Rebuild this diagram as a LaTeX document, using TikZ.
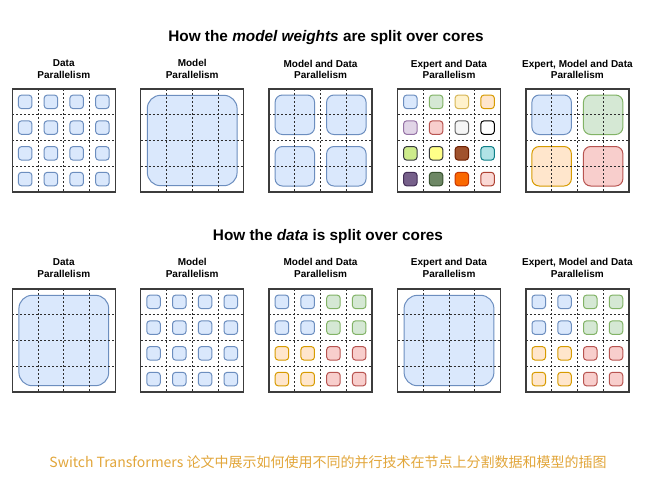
\documentclass[tikz,border=0pt]{standalone}
\usepackage{fontspec}
\setmainfont{Liberation Sans}
\newfontfamily\cjk{Noto Sans CJK SC}

\definecolor{fblue}{HTML}{DAE8FC}   \definecolor{sblue}{HTML}{6C8EBF}
\definecolor{fgreen}{HTML}{D5E8D4}  \definecolor{sgreen}{HTML}{82B366}
\definecolor{fyellow}{HTML}{FFF2CC} \definecolor{syellow}{HTML}{D6B656}
\definecolor{forange}{HTML}{FFE6CC} \definecolor{sorange}{HTML}{D79B00}
\definecolor{fpurple}{HTML}{E1D5E7} \definecolor{spurple}{HTML}{9673A6}
\definecolor{fred}{HTML}{F8CECC}    \definecolor{sred}{HTML}{B85450}
\definecolor{fgray}{HTML}{F5F5F5}   \definecolor{sgray}{HTML}{666666}
\definecolor{flime}{HTML}{CDEB8B}   \definecolor{slime}{HTML}{36393D}
\definecolor{flemon}{HTML}{FFFF88}
\definecolor{fbrown}{HTML}{A0522D}  \definecolor{sbrown}{HTML}{6D1F00}
\definecolor{fcyan}{HTML}{B0E3E6}   \definecolor{scyan}{HTML}{0E8088}
\definecolor{fviolet}{HTML}{76608A} \definecolor{sviolet}{HTML}{432D57}
\definecolor{folive}{HTML}{6D8764}  \definecolor{solive}{HTML}{3A5431}
\definecolor{fflame}{HTML}{FA6800}  \definecolor{sflame}{HTML}{C73500}
\definecolor{fpink}{HTML}{FAD9D5}   \definecolor{spink}{HTML}{AE4132}
\definecolor{capgold}{RGB}{226,166,58}

\tikzset{
  mblue/.style={fill=fblue,draw=sblue},
  mgreen/.style={fill=fgreen,draw=sgreen},
  myellow/.style={fill=fyellow,draw=syellow},
  morange/.style={fill=forange,draw=sorange},
  mpurple/.style={fill=fpurple,draw=spurple},
  mred/.style={fill=fred,draw=sred},
  mgray/.style={fill=fgray,draw=sgray},
  mwhite/.style={fill=white,draw=black},
  mlime/.style={fill=flime,draw=slime},
  mlemon/.style={fill=flemon,draw=slime},
  mbrown/.style={fill=fbrown,draw=sbrown},
  mcyan/.style={fill=fcyan,draw=scyan},
  mviolet/.style={fill=fviolet,draw=sviolet},
  molive/.style={fill=folive,draw=solive},
  mflame/.style={fill=fflame,draw=sflame},
  mpink/.style={fill=fpink,draw=spink},
  core/.style={rounded corners=2.3pt,line width=0.75pt},
  half/.style={rounded corners=5.5pt,line width=0.75pt},
  whole/.style={rounded corners=10pt,line width=0.75pt},
  cut/.style={draw={rgb,255:red,45;green,45;blue,45},line width=0.55pt,dash pattern=on 1.5pt off 1.5pt},
  panel/.style={draw={rgb,255:red,60;green,60;blue,60},line width=1pt},
  head/.style={font=\bfseries\fontsize{11.5}{14}\selectfont,inner sep=0pt},
  sub/.style={font=\bfseries\fontsize{7.5}{8.7}\selectfont,align=center,inner sep=0pt}
}

\begin{document}
\begin{tikzpicture}[x=0.75pt,y=0.75pt,yscale=-1]
\useasboundingbox (0,0) rectangle (646,483);
\fill[white] (0,0) rectangle (646,483);

% Titles
\node[head] (hw) at (326,37.5) {How the \textit{model weights} are split over cores};
\node[head] (hd) at (328,236.5) {How the \textit{data} is split over cores};

% Panel titles (weights)
\node[sub] (wdp) at (63.8,69) {Data\\Parallelism};
\node[sub] (wmp) at (192.2,69) {Model\\Parallelism};
\node[sub] (wmdp) at (320.6,69.5) {Model and Data\\Parallelism};
\node[sub] (wedp) at (449,69.5) {Expert and Data\\Parallelism};
\node[sub] (wemdp) at (577.4,69.5) {Expert, Model and Data\\Parallelism};
% Panel titles (data)
\node[sub] (ddp) at (63.8,268) {Data\\Parallelism};
\node[sub] (dmp) at (192.2,268) {Model\\Parallelism};
\node[sub] (dmdp) at (320.6,268) {Model and Data\\Parallelism};
\node[sub] (dedp) at (449,268) {Expert and Data\\Parallelism};
\node[sub] (demdp) at (577.4,268) {Expert, Model and Data\\Parallelism};

%Small cores, blue everywhere
\foreach \X/\Y in {12.3/89,140.7/289}
  \foreach \i in {0,...,3}
    \foreach \j in {0,...,3}
      \draw[core,mblue] (\X+\i*25.75+6.1,\Y+\j*25.75+6.1) rectangle ++(13.5,13.5);

%Small cores, one colour per expert
\foreach \c [count=\n from 0] in {mblue,mgreen,myellow,morange,mpurple,mred,mgray,mwhite,mlime,mlemon,mbrown,mcyan,mviolet,molive,mflame,mpink} {
  \pgfmathtruncatemacro\i{mod(\n,4)}
  \pgfmathtruncatemacro\j{\n/4}
  \draw[core,\c] (397.5+\i*25.75+6.1,89+\j*25.75+6.1) rectangle ++(13.5,13.5);
}

%Small cores, four experts
\foreach \X in {269.1,525.9}
  \foreach \c/\qi/\qj in {mblue/0/0,mgreen/2/0,morange/0/2,mred/2/2}
    \foreach \i in {0,1}
      \foreach \j in {0,1}
        \draw[core,\c] (\X+\qi*25.75+\i*25.75+6.1,289+\qj*25.75+\j*25.75+6.1) rectangle ++(13.5,13.5);

%Rounded Rect, one over four cores
\foreach \c/\qi/\qj in {mblue/0/0,mblue/2/0,mblue/0/2,mblue/2/2}
  \draw[half,\c] (269.1+\qi*25.75+6,89+\qj*25.75+6) rectangle ++(39.5,39.5);
\foreach \c/\qi/\qj in {mblue/0/0,mgreen/2/0,morange/0/2,mred/2/2}
  \draw[half,\c] (525.9+\qi*25.75+6,89+\qj*25.75+6) rectangle ++(39.5,39.5);

%Rounded Rect, over all cores
\foreach \X/\Y in {140.7/89,12.3/289,397.5/289}
  \draw[whole,mblue] (\X+6.6,\Y+6.3) rectangle ++(89.8,90.4);

% Core grid and frame
\foreach \X in {12.3,140.7,269.1,397.5,525.9}
  \foreach \Y in {89,289} {
    \foreach \k in {1,2,3} {
      \draw[cut] (\X+\k*25.75,\Y) -- ++(0,103);
      \draw[cut] (\X,\Y+\k*25.75) -- ++(103,0);
    }
    \draw[panel] (\X,\Y) rectangle ++(103,103);
  }

% Text Node
\node[font=\cjk\fontsize{10.5}{12.5}\selectfont,text=capgold,inner sep=0pt] (cap) at (328,462) {Switch Transformers 论文中展示如何使用不同的并行技术在节点上分割数据和模型的插图};
\end{tikzpicture}
\end{document}
